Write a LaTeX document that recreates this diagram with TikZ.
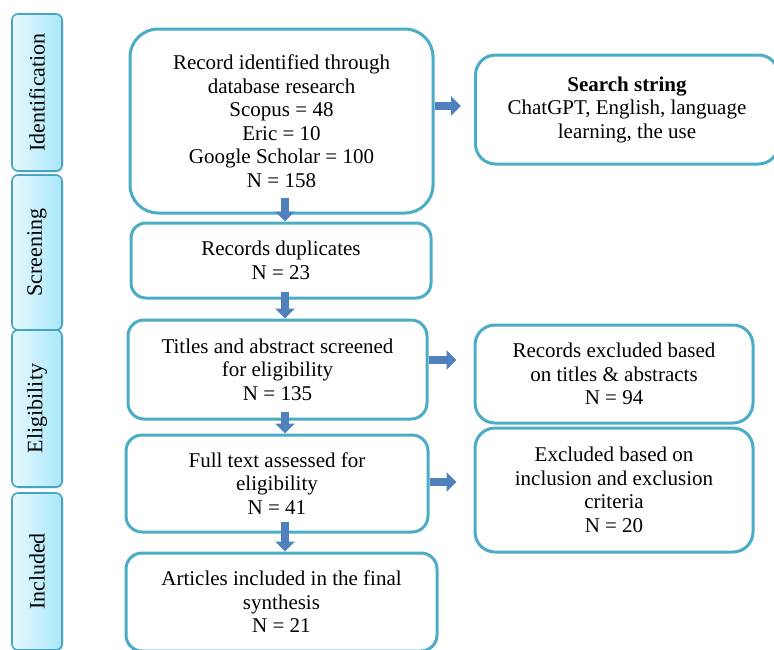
\documentclass[tikz,border=0pt]{standalone}
\usepackage{fontspec}
\setmainfont{Liberation Serif}
\usetikzlibrary{arrows.meta,shadows}
\definecolor{boxline}{HTML}{4BACC6}
\definecolor{tabline}{HTML}{46A5C0}
\definecolor{arrowblue}{HTML}{4F81BD}
\definecolor{tabL}{HTML}{E6F9FE}
\definecolor{tabR}{HTML}{A9E7FA}
\tikzset{
  box/.style={draw=boxline, line width=3pt, fill=white, align=center,
    font=\fontsize{21}{23.5}\selectfont, inner sep=2pt},
  tab/.style={draw=tabline, line width=1.6pt, rounded corners=6pt,
    left color=tabL, right color=tabR,
    minimum width=50pt, inner sep=0pt,
    font=\fontsize{22}{24}\selectfont,
    drop shadow={opacity=0.25, shadow xshift=1.5pt, shadow yshift=-1.5pt}},
  flowarrow/.style={draw=arrowblue, line width=8pt,
    -{Triangle[width=19pt,length=10pt]}}
}
\begin{document}
\begin{tikzpicture}[x=1pt,y=-1pt]
\useasboundingbox (0,0) rectangle (774,649);
% stage tabs
\node[tab, minimum height=157pt] (t1) at (37,92.5) {\rotatebox{90}{Identification}};
\node[tab, minimum height=155pt] (t2) at (37,252.5) {\rotatebox{90}{Screening}};
\node[tab, minimum height=157pt] (t3) at (37,408.5) {\rotatebox{90}{Eligibility}};
\node[tab, minimum height=157pt] (t4) at (37,571.5) {\rotatebox{90}{Included}};
% main column
\node[box, rounded corners=28pt, minimum width=303pt, minimum height=184pt] (b1) at (281.5,121)
  {Record identified through\\database research\\Scopus = 48\\Eric = 10\\Google Scholar = 100\\N = 158};
\node[box, rounded corners=15pt, minimum width=300pt, minimum height=75pt] (b2) at (281,260.5)
  {Records duplicates\\N = 23};
\node[box, rounded corners=16pt, minimum width=299pt, minimum height=99pt] (b3) at (277.5,369.5)
  {Titles and abstract screened\\for eligibility\\N = 135};
\node[box, rounded corners=16pt, minimum width=302pt, minimum height=97pt] (b4) at (277,483.5)
  {Full text assessed for\\eligibility\\N = 41};
\node[box, rounded corners=16pt, minimum width=311pt, minimum height=98pt] (b5) at (281.5,602)
  {Articles included in the final\\synthesis\\N = 21};
% right column
\node[box, rounded corners=20pt, minimum width=303pt, minimum height=109pt] (s) at (627,109.5)
  {\textbf{Search string}\\ChatGPT, English, language\\learning, the use};
\node[box, rounded corners=20pt, minimum width=278pt, minimum height=98pt] (r1) at (614,374)
  {Records excluded based\\on titles \& abstracts\\N = 94};
\node[box, rounded corners=20pt, minimum width=278pt, minimum height=124pt] (r2) at (614,490)
  {Excluded based on\\inclusion and exclusion\\criteria\\N = 20};
% arrows
\coordinate (ax) at (285,0);
\draw[flowarrow] ([yshift=17pt]b1.south -| ax) -- (b2.north -| ax);
\draw[flowarrow] ([yshift=8pt]b2.south -| ax) -- (b3.north -| ax);
\draw[flowarrow] ([yshift=9pt]b3.south -| ax) -- (b4.north -| ax);
\draw[flowarrow] ([yshift=12pt]b4.south -| ax) -- (b5.north -| ax);
\draw[flowarrow, shorten >=13pt] ([yshift=15pt]b1.east) -- ([yshift=15pt]b1.east -| s.west);
\draw[flowarrow, shorten >=17pt] ([yshift=9.5pt]b3.east) -- ([yshift=9.5pt]b3.east -| r1.west);
\draw[flowarrow, shorten >=17pt] ([yshift=1.5pt]b4.east) -- ([yshift=1.5pt]b4.east -| r2.west);
\end{tikzpicture}
\end{document}
